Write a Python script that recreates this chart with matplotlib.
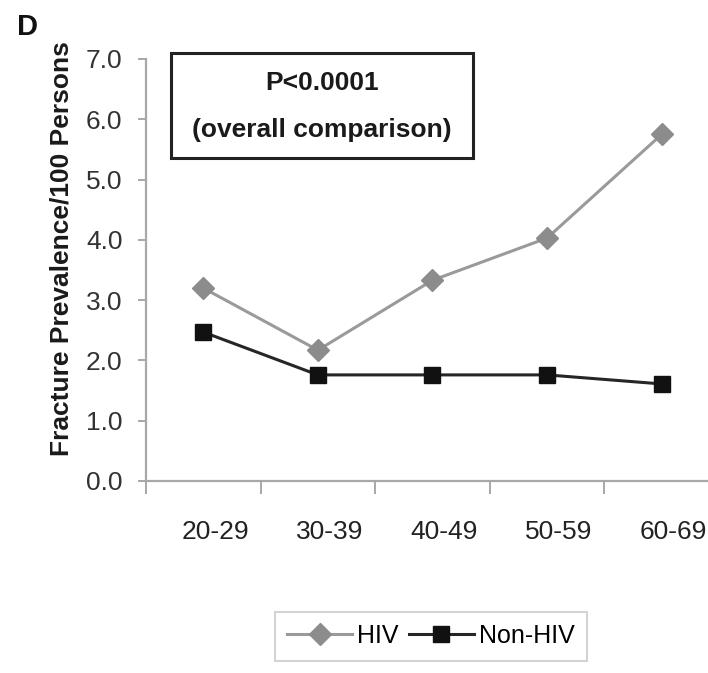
import matplotlib
matplotlib.use("Agg")
import matplotlib.pyplot as plt
import matplotlib.transforms as mtransforms
from matplotlib.patches import Rectangle

# data
age_groups = ["20-29", "30-39", "40-49", "50-59", "60-69"]
hiv = [3.2, 2.17, 3.33, 4.03, 5.75]
non_hiv = [2.47, 1.76, 1.76, 1.76, 1.61]
y_ticks = [0.0, 1.0, 2.0, 3.0, 4.0, 5.0, 6.0, 7.0]

plt.rcParams["font.family"] = ["Liberation Sans", "DejaVu Sans"]

fig = plt.figure(figsize=(7.08, 6.73), dpi=100)
ax = fig.add_axes([146 / 708, 192 / 673, 573 / 708, 422 / 673])

x = list(range(len(age_groups)))
ax.plot(x, hiv, color="#9a9a9a", lw=2.2, marker="D", ms=11,
        mfc="#8c8c8c", mec="#8c8c8c", label="HIV", zorder=3)
ax.plot(x, non_hiv, color="#262626", lw=2.2, marker="s", ms=11,
        mfc="#111111", mec="#111111", label="Non-HIV", zorder=4)

ax.set_xlim(-0.5, len(age_groups) - 0.5)
ax.set_ylim(0, 7)
ax.set_yticks(y_ticks)
ax.set_yticklabels([f"{v:.1f}" for v in y_ticks], fontsize=19, color="#333333")

# category boundaries carry the tick marks, labels sit at the centres
ax.set_xticks([i - 0.5 for i in range(len(age_groups) + 1)])
ax.set_xticklabels([])
ax.set_xticks(x, minor=True)
ax.set_xticklabels(age_groups, minor=True, fontsize=19, color="#222222")
ax.tick_params(axis="x", which="minor", length=0, pad=28)
ax.tick_params(axis="x", which="major", length=9, color="#999999", width=1.2)
ax.tick_params(axis="y", length=6, color="#999999", width=1.2, pad=11)
shift = mtransforms.ScaledTranslation(12 / 100, 0, fig.dpi_scale_trans)
for lab in ax.get_xticklabels(minor=True):
    lab.set_transform(lab.get_transform() + shift)

for side in ["top", "right"]:
    ax.spines[side].set_visible(False)
for side in ["left", "bottom"]:
    ax.spines[side].set_color("#a8a8a8")
    ax.spines[side].set_linewidth(1.6)

# p-value box
fig.patches.append(Rectangle((171 / 708, 1 - 158 / 673), 302 / 708, 105 / 673,
                             transform=fig.transFigure, fill=False,
                             edgecolor="#222222", lw=2.2))
fig.text(322 / 708, 1 - 83 / 673, "P<0.0001", ha="center", va="center",
         fontsize=19, fontweight="bold", color="#1a1a1a")
fig.text(322 / 708, 1 - 130 / 673, "(overall comparison)", ha="center",
         va="center", fontsize=19, fontweight="bold", color="#1a1a1a")

fig.text(62 / 708, 1 - 249 / 673, "Fracture Prevalence/100 Persons",
         rotation=90, ha="center", va="center", fontsize=19,
         fontweight="bold", color="#1a1a1a")
fig.text(17 / 708, 1 - 27 / 673, "D", ha="left", va="center", fontsize=21,
         fontweight="bold", color="#111111")

leg = fig.legend(loc="center", bbox_to_anchor=(431 / 708, 1 - 636 / 673),
                 ncol=2, fontsize=18, frameon=True, fancybox=False,
                 handlelength=2.6, columnspacing=0.4, handletextpad=0.2,
                 borderpad=0.5)
leg.get_frame().set_edgecolor("#c8c8c8")
leg.get_frame().set_linewidth(1.5)

fig.savefig("out.png", dpi=100)
